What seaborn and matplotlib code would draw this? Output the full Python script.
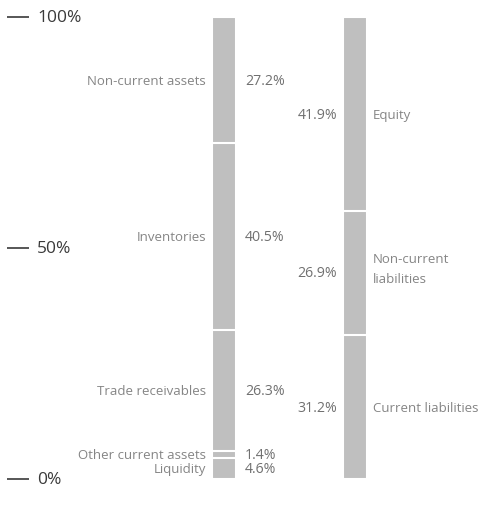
import numpy as np
import pandas as pd
import matplotlib
matplotlib.use("Agg")
import matplotlib.pyplot as plt
import seaborn as sns

# balance sheet structure, bottom to top
asset_labels = ["Liquidity", "Other current assets", "Trade receivables", "Inventories", "Non-current assets"]
asset_values = [4.6, 1.4, 26.3, 40.5, 27.2]
liab_labels = ["Current liabilities", "Non-current\nliabilities", "Equity"]
liab_values = [31.2, 26.9, 41.9]
sides = ["Assets", "Liabilities"]
tick_values = [0, 50, 100]
tick_labels = ["0%", "50%", "100%"]

sns.set_theme(style="white")
plt.rcParams["font.family"] = ["Open Sans", "DejaVu Sans"]

bar_color = "#bfbfbf"
lab_color = "#858585"
pct_color = "#707070"

rows = []
for side, labs, vals in [(sides[0], asset_labels, asset_values), (sides[1], liab_labels, liab_values)]:
    cum = np.cumsum(vals)
    for lab, v, top in zip(labs, vals, cum):
        rows.append({"side": side, "label": lab, "value": v, "top": top, "mid": top - v / 2})
df = pd.DataFrame(rows)

fig = plt.figure(figsize=(4.8, 5.06), dpi=100)
ax = fig.add_axes([0, 0, 1, 1])

spacing = 131.0  # px between bar centres
bw = 24 / spacing

# stacked bars: draw cumulative tops from largest to smallest
for _, r in df.sort_values("top", ascending=False).iterrows():
    sub = pd.DataFrame({"side": [r["side"]], "top": [r["top"]]})
    sns.barplot(data=sub, x="side", y="top", order=sides, width=bw, color=bar_color,
                edgecolor="white", linewidth=1.5, saturation=1, ax=ax)

ax.set_xlim(-224 / spacing, 1 + (480 - 355) / spacing)
ax.set_ylim(-26 / 4.62, 100 + 18.5 / 4.62)
ax.axis("off")

fs = 9.5
pfs = 10.2
for _, r in df.iterrows():
    if r["side"] == sides[0]:
        xe = 0 - bw / 2
        xr = 0 + bw / 2
        ax.annotate(r["label"], xy=(xe, r["mid"]), xytext=(-6, 0), textcoords="offset pixels",
                    ha="right", va="center", fontsize=fs, color=lab_color)
        ax.annotate(f"{r['value']:.1f}%", xy=(xr, r["mid"]), xytext=(9, 0), textcoords="offset pixels",
                    ha="left", va="center", fontsize=pfs, color=pct_color)
    else:
        xe = 1 - bw / 2
        xr = 1 + bw / 2
        dy = 4 if "\n" in r["label"] else 0
        ax.annotate(f"{r['value']:.1f}%", xy=(xe, r["mid"]), xytext=(-6, 0), textcoords="offset pixels",
                    ha="right", va="center", fontsize=pfs, color=pct_color)
        ax.annotate(r["label"], xy=(xr, r["mid"]), xytext=(6, dy), textcoords="offset pixels",
                    ha="left", va="center", fontsize=fs, color=lab_color, linespacing=1.7)

# percentage scale on the left
tr = ax.get_yaxis_transform()
for v, t in zip(tick_values, tick_labels):
    ax.plot([7 / 480, 29 / 480], [v, v], color="#3a3a3a", lw=1.2, transform=tr, solid_capstyle="butt")
    ax.text(37 / 480, v, t, transform=tr, ha="left", va="center", fontsize=12.5, color="#3a3a3a")

fig.savefig("out.png", dpi=100)
